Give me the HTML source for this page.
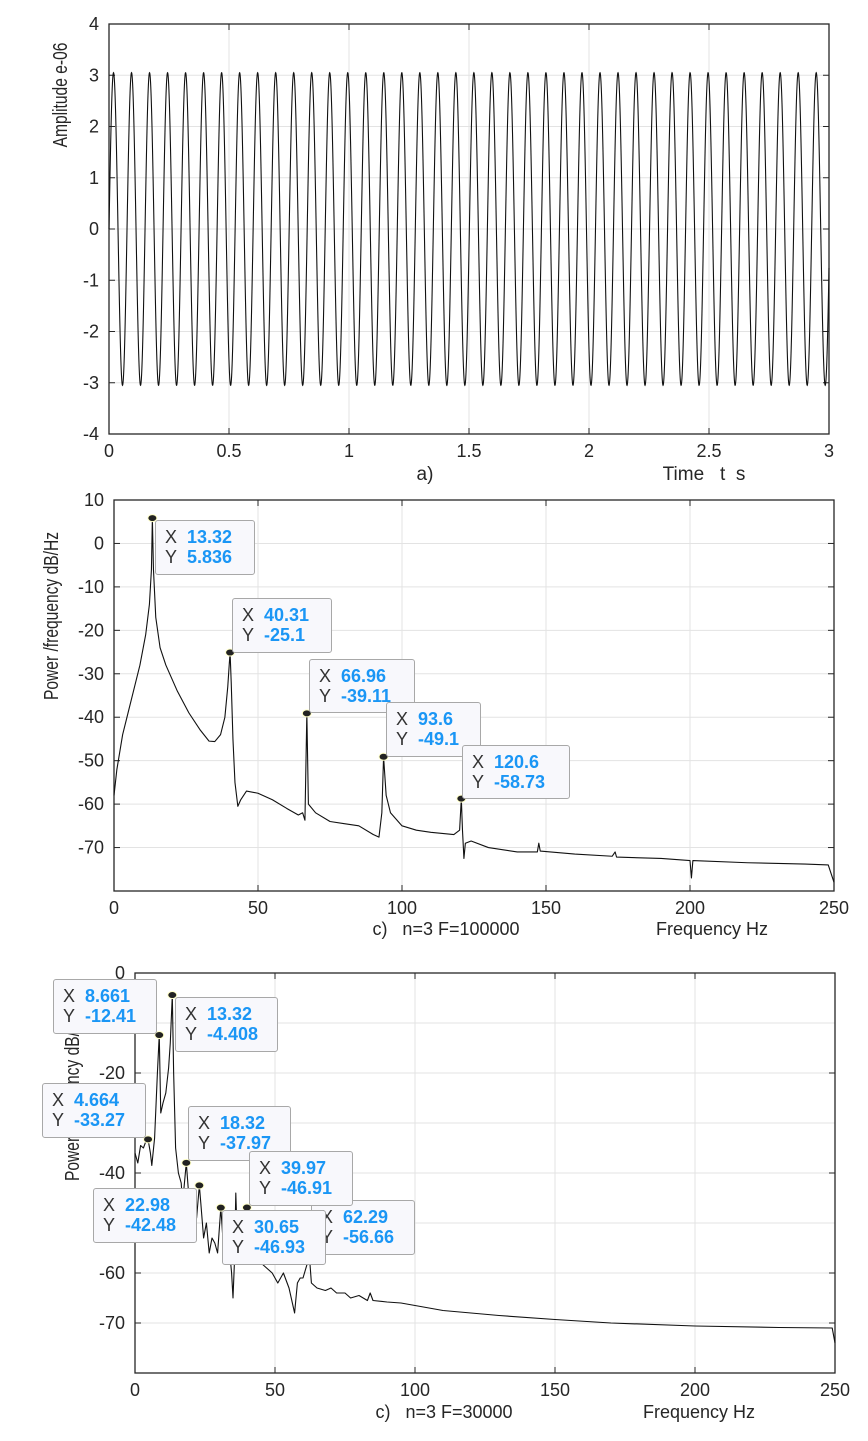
<!DOCTYPE html>
<html><head><meta charset="utf-8">
<style>
html,body{margin:0;padding:0;background:#fff;}
body{width:868px;height:1436px;position:relative;overflow:hidden;font-family:"Liberation Sans",sans-serif;}
svg text{font-family:"Liberation Sans",sans-serif;fill:#262626;white-space:pre;}
.tip{position:absolute;background:#f8f8fc;border:1px solid #a8a8a8;border-radius:3px;box-sizing:border-box;font:bold 18px "Liberation Sans",sans-serif;color:#1a96f5;padding:6px 0 0 9px;line-height:20px;white-space:nowrap;}
.tip span{color:#333;font-weight:normal;display:inline-block;width:22px;}
</style></head>
<body>
<svg id="svg" width="868" height="1436" xmlns="http://www.w3.org/2000/svg"></svg>
<script>
// ---- chart a data ----
const sigAmp=[3.05];
const sigFreq=[13.32];
const aXTicks=[0,0.5,1,1.5,2,2.5,3];
const aYTicks=[4,3,2,1,0,-1,-2,-3,-4];
// ---- chart b data ----
const bX=[0,1,3,6,9,11,12.3,13.0,13.32,13.7,14.5,16,18,22,26,30,33,35,37,38.5,39.5,40.0,40.31,40.7,41.3,42,43,44,46,50,55,60,64,65.5,66.3,66.96,67.5,70,75,80,85,90,92,93,93.6,94.5,96,100,105,110,118,120,120.6,121,121.5,122,124,130,140,147,147.5,148,160,173,174,174.5,190,200,200.5,201,220,240,248,250];
const bY=[-58,-52,-44,-36,-28,-21,-14,-6,5.84,-6,-17,-24,-28,-34,-39,-43,-45.5,-45.6,-44,-40,-33,-28,-25.1,-32,-45,-55,-60.5,-59,-57,-57.5,-59,-61,-62.5,-62,-63.7,-39.11,-60,-62,-64,-64.5,-65,-67,-67.6,-62,-49.1,-58,-62,-65,-66,-66.5,-67,-66,-58.73,-66,-72.5,-69,-68.5,-70,-71,-71,-69,-70.8,-71.5,-72,-71,-72.2,-72.5,-73,-77,-73,-73.5,-73.8,-74,-78];
const bPeaksX=[13.32,40.31,66.96,93.6,120.6];
const bPeaksY=[5.836,-25.1,-39.11,-49.1,-58.73];
const bXTicks=[0,50,100,150,200,250];
const bYTicks=[10,0,-10,-20,-30,-40,-50,-60,-70];
// ---- chart c data ----
const cX=[0,1,2,3,4,4.664,5.5,6,7,8,8.661,9.2,10,11,12,12.6,13.32,13.8,14.5,15.5,16.5,17,18.32,19,20,21,22,22.98,23.5,24.5,25.5,26.5,27.5,28.5,29.5,30.65,31.5,32.5,33.5,34.5,35,35.5,36,36.8,38,39.97,41,43,45,47,49,51,53,55,57,58,59,60,62.29,63,65,68,70,72,75,77,80,83,84,85,90,95,100,110,120,130,150,170,200,230,249,250];
const cY=[-36,-38,-34.5,-35,-33.5,-33.27,-36,-38.5,-33,-20,-12.41,-28,-26,-24,-19,-14,-4.41,-20,-35,-40,-42,-46,-37.97,-43,-48,-46,-49,-42.48,-46,-53,-50,-56,-53,-54,-56,-46.93,-54,-57,-54,-60,-65,-58,-44,-58,-56,-46.91,-55,-57,-58,-59,-60,-62,-60,-63,-68,-62,-61,-61,-56.66,-62,-63,-63.5,-63,-64,-64,-65,-64.5,-65.5,-64,-65.5,-65.8,-66,-66.5,-67.5,-68,-68.5,-69.3,-70,-70.6,-70.9,-71,-74];
const cPeaksX=[4.664,8.661,13.32,18.32,22.98,30.65,39.97,62.29];
const cPeaksY=[-33.27,-12.41,-4.408,-37.97,-42.48,-46.93,-46.91,-56.66];
const cXTicks=[0,50,100,150,200,250];
const cYTicks=[0,-20,-40,-60,-70];
const cGrid=[0,-10,-20,-30,-40,-50,-60,-70];

const NS="http://www.w3.org/2000/svg";
const svg=document.getElementById('svg');
function el(tag,attrs,parent){const e=document.createElementNS(NS,tag);for(const k in attrs)e.setAttribute(k,attrs[k]);(parent||svg).appendChild(e);return e;}
function txt(s,x,y,anchor,size,parent){const t=el('text',{x:x,y:y,'text-anchor':anchor||'middle','font-size':size||15},parent);t.textContent=s;return t;}

function axes(name,L,T,R,B,x0,x1,y0,y1,xt,yt,ygrid){
  const g=el('g',{});
  
  
  const sx=v=>L+(v-x0)/(x1-x0)*(R-L);
  const sy=v=>B-(v-y0)/(y1-y0)*(B-T);
  el('rect',{x:L,y:T,width:R-L,height:B-T,fill:'#fff'},g);
  xt.forEach(v=>{el('line',{x1:sx(v),x2:sx(v),y1:T,y2:B,stroke:'#e3e3e3','stroke-width':1},g);});
  (ygrid||yt).forEach(v=>{el('line',{x1:L,x2:R,y1:sy(v),y2:sy(v),stroke:'#e3e3e3','stroke-width':1},g);});
  el('rect',{x:L,y:T,width:R-L,height:B-T,fill:'none',stroke:'#262626','stroke-width':1.3},g);
  xt.forEach(v=>{el('line',{x1:sx(v),x2:sx(v),y1:B,y2:B-6,stroke:'#262626'},g);el('line',{x1:sx(v),x2:sx(v),y1:T,y2:T+6,stroke:'#262626'},g);
    const t=txt(String(v),sx(v),B+23,'middle',18,g);});
  yt.forEach(v=>{el('line',{x1:L,x2:L+6,y1:sy(v),y2:sy(v),stroke:'#262626'},g);el('line',{x1:R,x2:R-6,y1:sy(v),y2:sy(v),stroke:'#262626'},g);
    const t=txt(String(v),L-10,sy(v)+6,'end',18,g);});
  return {sx,sy,g};
}

// Chart a
const A=axes('time-plot',109,24,829,434,0,3,-4,4,aXTicks,aYTicks);
{let d='';const N=4000;for(let i=0;i<=N;i++){const t=3*i/N;const y=sigAmp[0]*Math.sin(2*Math.PI*sigFreq[0]*t);d+=(i?'L':'M')+A.sx(t).toFixed(2)+','+A.sy(y).toFixed(2);}
const p=el('path',{d:d,fill:'none',stroke:'#111','stroke-width':1.1},A.g);

}
{const t=txt('Amplitude e-06',0,0,'middle',20);t.setAttribute('transform','translate(67,95) rotate(-90) scale(0.78,1)');

}
{const t=txt('a)',425,480,'middle',19);}
{const t=txt('Time   t  s',704,480,'middle',19);}

function spectrum(ax,xs,ys,px,py,name){
  let d='';xs.forEach((x,i)=>{d+=(i?'L':'M')+ax.sx(x).toFixed(2)+','+ax.sy(ys[i]).toFixed(2);});
  const p=el('path',{d:d,fill:'none',stroke:'#111','stroke-width':1.1,'stroke-linejoin':'round'},ax.g);
  
  
  px.forEach((x,i)=>{const c=el('ellipse',{cx:ax.sx(x),cy:ax.sy(py[i]),rx:4.5,ry:3.5,fill:'#222',stroke:'#ffffc8','stroke-width':1},ax.g);
    
    });
}
// Chart b
const B=axes('spectrum-plot-100000',114,500,834,891,0,250,-80,10,bXTicks,bYTicks);
spectrum(B,bX,bY,bPeaksX,bPeaksY,'spectrum-line-100000');
{const t=txt('Power /frequency dB/Hz',0,0,'middle',20);t.setAttribute('transform','translate(58,616) rotate(-90) scale(0.78,1)');

}
{const t=txt('c)   n=3 F=100000',446,935,'middle',18);}
{const t=txt('Frequency Hz',712,935,'middle',18);}

// Chart c
const C=axes('spectrum-plot-30000',135,973,835,1373,0,250,-80,0,cXTicks,cYTicks,cGrid);
spectrum(C,cX,cY,cPeaksX,cPeaksY,'spectrum-line-30000');
{const t=txt('Power /frequency dB/Hz',0,0,'middle',20);t.setAttribute('transform','translate(79,1097) rotate(-90) scale(0.78,1)');

}
{const t=txt('c)   n=3 F=30000',444,1418,'middle',18);}
{const t=txt('Frequency Hz',699,1418,'middle',18);}
</script>

<div class="tip" style="left:155px;top:520px;width:100px;height:55px;"><span>X</span>13.32<br><span>Y</span>5.836</div>
<div class="tip" style="left:232px;top:598px;width:100px;height:55px;"><span>X</span>40.31<br><span>Y</span>-25.1</div>
<div class="tip" style="left:309px;top:659px;width:106px;height:54px;"><span>X</span>66.96<br><span>Y</span>-39.11</div>
<div class="tip" style="left:386px;top:702px;width:95px;height:55px;"><span>X</span>93.6<br><span>Y</span>-49.1</div>
<div class="tip" style="left:462px;top:745px;width:108px;height:54px;"><span>X</span>120.6<br><span>Y</span>-58.73</div>

<div class="tip" style="left:53px;top:979px;width:104px;height:55px;"><span>X</span>8.661<br><span>Y</span>-12.41</div>
<div class="tip" style="left:175px;top:997px;width:103px;height:55px;"><span>X</span>13.32<br><span>Y</span>-4.408</div>
<div class="tip" style="left:42px;top:1083px;width:104px;height:55px;"><span>X</span>4.664<br><span>Y</span>-33.27</div>
<div class="tip" style="left:188px;top:1106px;width:103px;height:55px;"><span>X</span>18.32<br><span>Y</span>-37.97</div>
<div class="tip" style="left:311px;top:1200px;width:104px;height:55px;"><span>X</span>62.29<br><span>Y</span>-56.66</div>
<div class="tip" style="left:249px;top:1151px;width:104px;height:55px;"><span>X</span>39.97<br><span>Y</span>-46.91</div>
<div class="tip" style="left:93px;top:1188px;width:104px;height:55px;"><span>X</span>22.98<br><span>Y</span>-42.48</div>
<div class="tip" style="left:222px;top:1210px;width:104px;height:55px;"><span>X</span>30.65<br><span>Y</span>-46.93</div>
</body></html>
